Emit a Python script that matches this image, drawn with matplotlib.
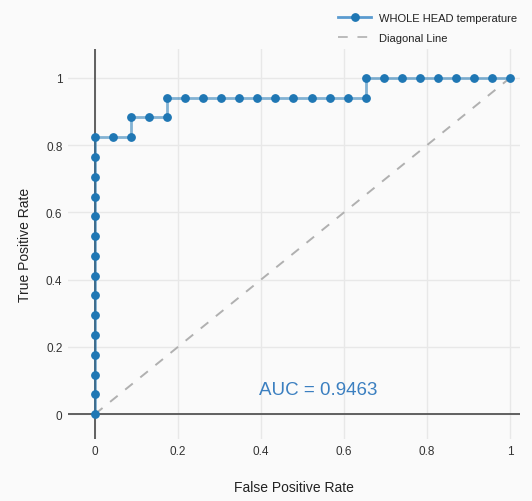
import matplotlib
matplotlib.use("Agg")
import matplotlib.pyplot as plt
from matplotlib.lines import Line2D

plt.rcParams['font.family'] = ['Liberation Sans', 'DejaVu Sans']

# ROC data (23 negatives, 17 positives)
fpr = [0]*15 + [1/23, 2/23, 2/23, 3/23, 4/23, 4/23] + [k/23 for k in range(5, 16)] + [k/23 for k in range(15, 24)]
tpr = [k/17 for k in range(15)] + [14/17, 14/17, 15/17, 15/17, 15/17, 16/17] + [16/17]*11 + [1.0]*9
diag_x = [0, 1]
diag_y = [0, 1]
auc_text = "AUC = 0.9463"
series_name = "WHOLE HEAD temperature"
diag_name = "Diagonal Line"
ticks = [0, 0.2, 0.4, 0.6, 0.8, 1]
tick_labels = ["0", "0.2", "0.4", "0.6", "0.8", "1"]

bg = '#fafafa'
fig = plt.figure(figsize=(5.32, 5.02), dpi=100, facecolor=bg)
ax = fig.add_axes([68/532, (502-440)/502, (520-68)/532, (440-50)/502], facecolor=bg)

ax.set_xlim(-0.065, 1.024)
ax.set_ylim(-0.074, 1.086)

for s in ax.spines.values():
    s.set_visible(False)

ax.set_xticks(ticks)
ax.set_xticklabels(tick_labels)
ax.set_yticks(ticks)
ax.set_yticklabels(tick_labels)
ax.tick_params(length=0, pad=4, labelsize=8.5, colors='#333333')
ax.grid(True, color='#e8e8e8', linewidth=1)
ax.set_axisbelow(True)

ax.axhline(0, color='#555555', linewidth=1.3, zorder=1)
ax.axvline(0, color='#555555', linewidth=1.3, zorder=1)

ax.plot(diag_x, diag_y, color='#b0b0b0', linestyle=(0, (5, 5)), linewidth=1.4, zorder=2)
ax.plot(fpr, tpr, color='#1f77b4', alpha=0.55, linewidth=2, zorder=3)
ax.plot(fpr, tpr, linestyle='none', marker='o', color='#1f77b4', markersize=5.3, zorder=4)

ax.text(0.537, 0.074, auc_text, color='#3b7fc0', fontsize=13.5, ha='center', va='center')

ax.set_xlabel("False Positive Rate", fontsize=10, color='#222222', labelpad=17)
ax.set_ylabel("True Positive Rate", fontsize=10, color='#222222', labelpad=10)

handles = [Line2D([0], [0], color='#5a9bd0', linewidth=2, marker='o', markersize=5.3,
                  markerfacecolor='#1f77b4', markeredgecolor='#1f77b4'),
           Line2D([0], [0], color='#bbbbbb', linewidth=1.4, linestyle=(0, (5, 5)))]
leg = fig.legend(handles, [series_name, diag_name], loc='upper left',
                 bbox_to_anchor=(328/532, 1 - 4/502), frameon=False, fontsize=8,
                 handlelength=3.0, labelspacing=0.9, handletextpad=0.7)
for t in leg.get_texts():
    t.set_color('#222222')

fig.savefig('out.png', dpi=100, facecolor=bg)
